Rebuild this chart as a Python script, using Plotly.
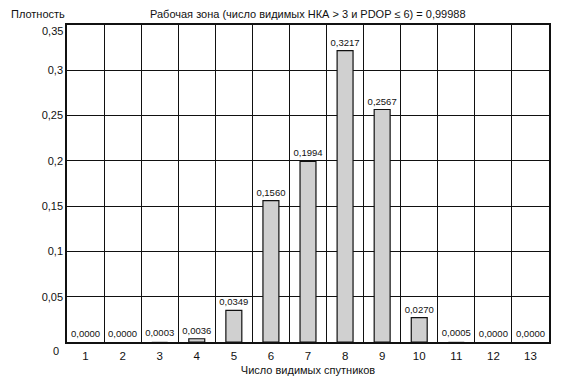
import plotly.graph_objects as go

sats = list(range(1, 14))
density = [0.0000, 0.0000, 0.0003, 0.0036, 0.0349, 0.1560, 0.1994, 0.3217, 0.2567, 0.0270, 0.0005, 0.0000, 0.0000]
labels = [f"{v:.4f}".replace(".", ",") for v in density]
ytick_vals = [0, 0.05, 0.1, 0.15, 0.2, 0.25, 0.3, 0.35]
ytick_text = ["", "0,05", "0,1", "0,15", "0,2", "0,25", "0,3", ""]

FONT = "Liberation Sans, Arial, sans-serif"

fig = go.Figure()
fig.add_trace(go.Bar(
    x=sats, y=density, width=0.43,
    marker=dict(color="#d0d0d0",
                line=dict(color="#111", width=[1.2 if v >= 0.001 else 0 for v in density])),
    text=labels, textposition="outside", cliponaxis=False,
    textfont=dict(size=9.5, color="#111", family=FONT),
))

fig.update_layout(
    width=562, height=386,
    margin=dict(l=67, r=11, t=25, b=39),
    paper_bgcolor="white", plot_bgcolor="white",
    showlegend=False,
    font=dict(family=FONT, size=11, color="#111"),
    uniformtext=dict(minsize=9, mode="show"),
)
fig.update_xaxes(
    range=[0.5, 13.5], tickvals=sats, ticktext=[str(s) for s in sats],
    showgrid=False, showline=True, linecolor="#111", linewidth=1.5, mirror=True,
    ticks="", ticklabelstandoff=2, tickfont=dict(size=11.5),
    minor=dict(tick0=0.5, dtick=1, showgrid=True, gridcolor="#111", gridwidth=1.3, ticks=""),
    title=dict(text="Число видимых спутников", font=dict(size=11), standoff=6),
    zeroline=False,
)
fig.update_yaxes(
    range=[0, 0.35], tickvals=ytick_vals, ticktext=ytick_text,
    showgrid=True, gridcolor="#111", gridwidth=1.3,
    showline=True, linecolor="#111", linewidth=1.5, mirror=True,
    ticks="", tickfont=dict(size=11), zeroline=False,
)
fig.add_annotation(x=0, y=0, xref="paper", yref="paper", text="0", showarrow=False,
                   xanchor="right", yanchor="top", xshift=-6, yshift=-1, font=dict(size=11))
fig.add_annotation(x=0, y=1, xref="paper", yref="paper", text="0,35", showarrow=False,
                   xanchor="right", yanchor="middle", xshift=-2, yshift=-6, font=dict(size=11))
fig.add_annotation(x=-0.12, y=1, xref="paper", yref="paper", text="Плотность", showarrow=False,
                   xanchor="left", yanchor="bottom", yshift=3, font=dict(size=11))
fig.add_annotation(x=0.5, y=1, xref="paper", yref="paper",
                   text="Рабочая зона (число видимых НКА > 3 и PDOP ≤ 6) = 0,99988",
                   showarrow=False, xanchor="center", yanchor="bottom", yshift=3, font=dict(size=11))

fig.write_html("out.html")
